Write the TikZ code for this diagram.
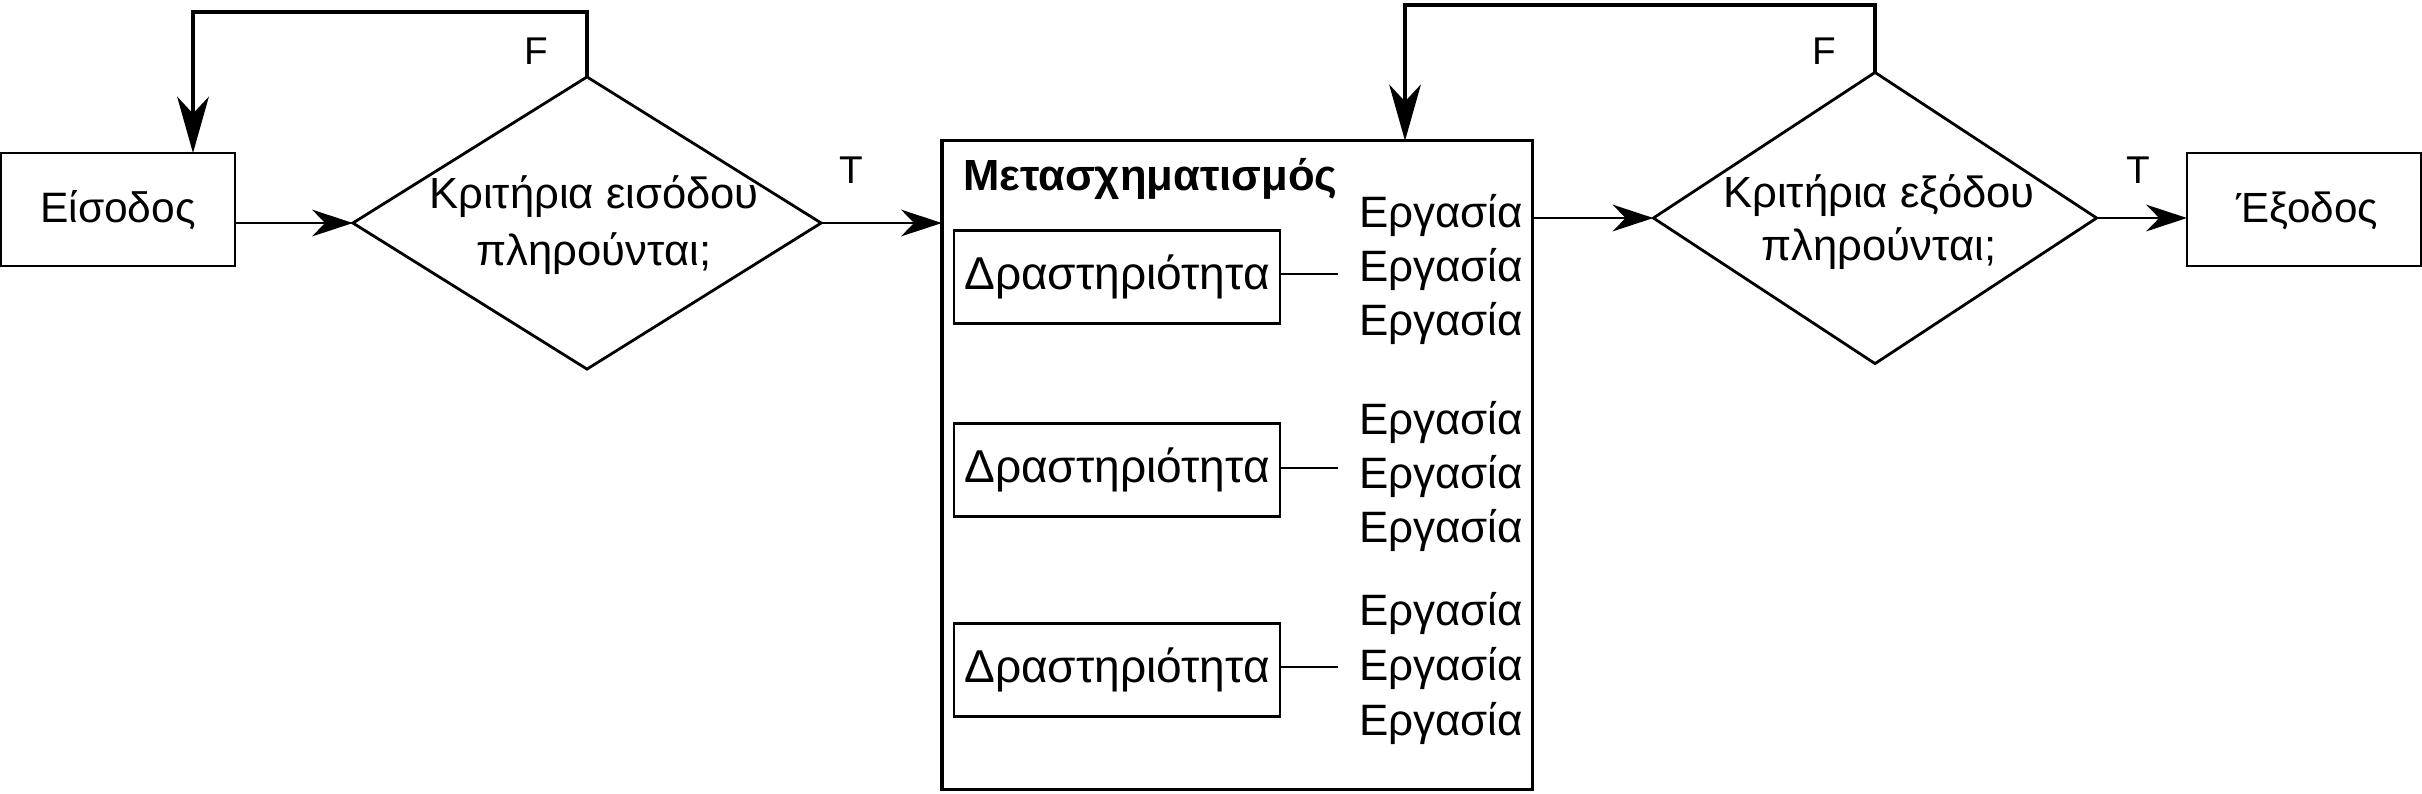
\documentclass[tikz,border=0pt]{standalone}
\usepackage{fontspec}
\setmainfont{Liberation Sans}
\usetikzlibrary{arrows.meta,shapes.geometric}
\begin{document}
\begin{tikzpicture}[x=0.01cm,y=-0.01cm,
  every node/.style={outer sep=0pt},
  box/.style={draw, line width=0.7pt, inner sep=0pt, text height=0.25cm, text depth=0pt, font=\fontsize{12}{14}\selectfont},
  actbox/.style={box, minimum width=3.26cm, minimum height=0.93cm, font=\fontsize{13.1}{15}\selectfont},
  frame/.style={draw, line width=0.95pt, inner sep=0pt},
  dia/.style={draw, shape=diamond, line width=0.8pt, inner sep=0pt},
  dtext/.style={inner sep=0pt, font=\fontsize{12.4}{14}\selectfont},
  lbl/.style={inner sep=0pt, font=\fontsize{11}{13}\selectfont},
  task/.style={inner xsep=0.21cm, inner ysep=0pt, font=\fontsize{12.5}{14}\selectfont},
  harr/.style={-{Stealth[length=11.6pt,width=7.6pt,inset=3.7pt]}, line width=0.8pt},
  varr/.style={-{Stealth[length=16pt,width=9pt,inset=4.8pt]}, line width=0.95pt},
  link/.style={line width=0.55pt}]
\useasboundingbox (0,0) rectangle (2422,793);

% input / output boxes
\node[box, minimum width=2.34cm, minimum height=1.13cm, font=\fontsize{12.1}{14}\selectfont] (in) at (118,209.5) {Είσοδος};
\node[box, minimum width=2.34cm, minimum height=1.13cm] (out) at (2304,209.5) {\hspace*{0.06cm}Έξοδος};

% decisions
\node[dia, minimum width=4.68cm, minimum height=2.92cm] (d1) at (587,223) {};
\node[dtext, anchor=base] (d1a) at (594,208) {Κριτήρια εισόδου};
\node[dtext, anchor=base] (d1b) at (594,265) {πληρούνται;};

\node[dia, minimum width=4.43cm, minimum height=2.91cm] (d2) at (1875,218) {};
\node[dtext, anchor=base] (d2a) at (1879,207) {Κριτήρια εξόδου};
\node[dtext, anchor=base] (d2b) at (1879,260) {πληρούνται;};

% transformation frame
\node[frame, minimum width=5.9cm, minimum height=6.48cm] (tr) at (1237,465) {};
\node[inner sep=0pt, anchor=base west, font=\fontsize{12.4}{14}\selectfont\bfseries] (ttl) at (963,190) {Μετασχηματισμός};

% activities
\node[actbox] (a1) at (1117,277) {Δραστηριότητα};
\node[actbox] (a2) at (1117,470) {Δραστηριότητα};
\node[actbox] (a3) at (1117,670) {Δραστηριότητα};

% tasks
\node[task, anchor=base west] (e1a) at (1338,227) {Εργασία};
\node[task, anchor=base west] (e1b) at (1338,281) {Εργασία};
\node[task, anchor=base west] (e1c) at (1338,335) {Εργασία};
\node[task, anchor=base west] (e2a) at (1338,434) {Εργασία};
\node[task, anchor=base west] (e2b) at (1338,488) {Εργασία};
\node[task, anchor=base west] (e2c) at (1338,542) {Εργασία};
\node[task, anchor=base west] (e3a) at (1338,625) {Εργασία};
\node[task, anchor=base west] (e3b) at (1338,680) {Εργασία};
\node[task, anchor=base west] (e3c) at (1338,735) {Εργασία};

\draw[link] ([yshift=0.03cm]a1.east) -- ([yshift=0.03cm]a1.east -| e1b.west);
\draw[link] ([yshift=0.02cm]a2.east) -- ([yshift=0.02cm]a2.east -| e2b.west);
\draw[link] ([yshift=0.03cm]a3.east) -- ([yshift=0.03cm]a3.east -| e3b.west);

% labels
\node[lbl, anchor=base] (f1) at (536,64) {F};
\node[lbl, anchor=base] (f2) at (1824,64) {F};
\node[lbl, anchor=base] (t1) at (851,183) {T};
\node[lbl, anchor=base] (t2) at (2138,183) {T};

% main flow
\draw[harr] (in.east |- d1.west) -- (d1.west);
\draw[harr] (d1.east) -- (d1.east -| tr.west);
\draw[harr] (tr.east |- d2.west) -- (d2.west);
\draw[harr] (d2.east) -- (d2.east -| out.west);

% feedback loops
\coordinate (fb1) at (193,12);
\coordinate (fb2) at (1405,5);
\draw[varr] (d1.north) |- (fb1) -- (fb1 |- in.north);
\draw[varr] (d2.north) |- (fb2) -- (fb2 |- tr.north);
\end{tikzpicture}
\end{document}
